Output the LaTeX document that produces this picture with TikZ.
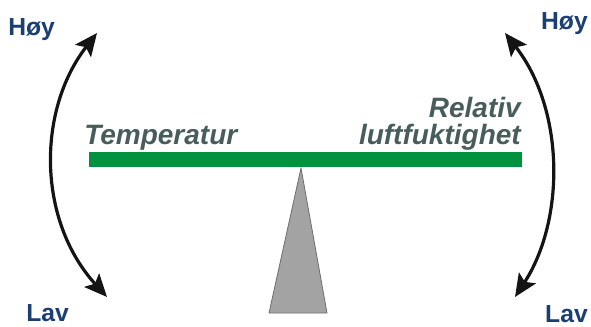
\documentclass[tikz,border=0pt]{standalone}
\usepackage{fontspec}
\setmainfont{Liberation Sans}
\usetikzlibrary{arrows.meta}
\definecolor{barGreen}{HTML}{00923F}
\definecolor{labGrey}{HTML}{485C5C}
\definecolor{levBlue}{HTML}{1C3F73}
\definecolor{fulGrey}{HTML}{A3A3A3}
\definecolor{fulEdge}{HTML}{6E6E6E}
\begin{document}
\begin{tikzpicture}[x=0.75pt,y=-0.75pt,
  lvl/.style={font=\fontsize{18.5}{20}\selectfont\bfseries, text=levBlue, inner sep=0pt},
  lab/.style={font=\fontsize{21}{20.25}\selectfont\bfseries\itshape, text=labGrey, inner sep=0pt},
  swing/.style={line width=2.4pt, draw=black!92, {Stealth[length=17pt,width=15pt,inset=3.5pt]}-{Stealth[length=17pt,width=15pt,inset=3.5pt]}}]
\useasboundingbox (0,0) rectangle (591,326);
% beam
\node[fill=barGreen, minimum width=433*0.75pt, minimum height=15*0.75pt, inner sep=0pt, anchor=north west] (bar) at (89,152) {};
% fulcrum
\coordinate (apex) at (301,168);
\coordinate (bl) at (269,313);
\coordinate (br) at (327,313);
\draw[fill=fulGrey, draw=fulEdge, line width=0.6pt] (apex) -- (bl) -- (br) -- cycle;
% labels
\node[lab, anchor=base west] (temp) at (84,144) {Temperatur};
\node[lab, anchor=base east] (rel1) at (521,117) {Relativ};
\node[lab, anchor=base east] (rel2) at (521,144) {luftfuktighet};
% level labels
\node[lvl, anchor=base west] (hoyL) at (8,35) {Høy};
\node[lvl, anchor=base west] (lavL) at (26,321) {Lav};
\node[lvl, anchor=base east] (hoyR) at (588,29) {Høy};
\node[lvl, anchor=base east] (lavR) at (588,322) {Lav};
% arrows
\coordinate (lt) at (97,33);
\coordinate (lb) at (107,297);
\coordinate (rt) at (505,33);
\coordinate (rb) at (515,297);
\draw[swing] (lt) .. controls (37,110) and (37,220) .. (lb);
\draw[swing] (rt) .. controls (565,110) and (565,220) .. (rb);
\end{tikzpicture}
\end{document}
